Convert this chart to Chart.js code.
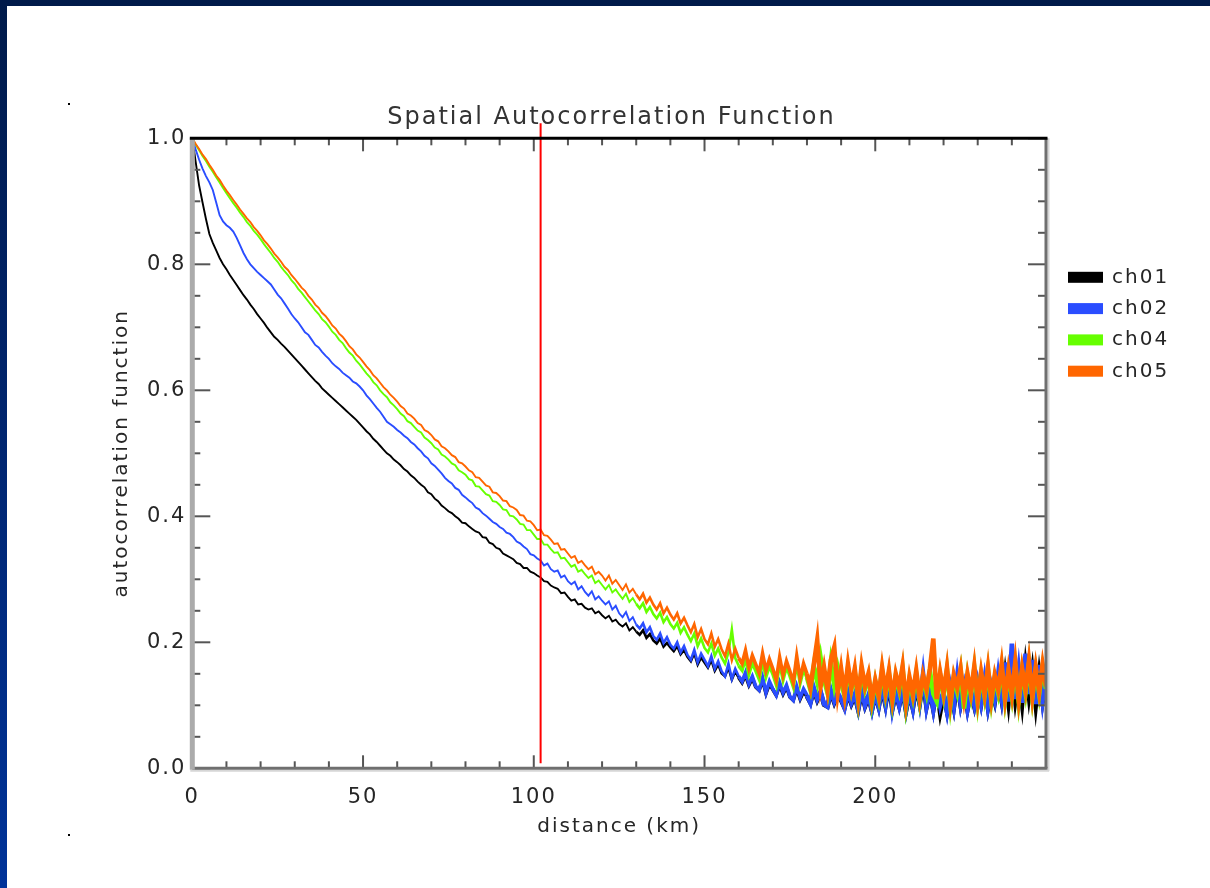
<!DOCTYPE html>
<html><head><meta charset="utf-8">
<script src="https://cdn.jsdelivr.net/npm/chart.js@4.4.1/dist/chart.umd.min.js"></script>
<style>
html,body{margin:0;padding:0;width:1210px;height:888px;overflow:hidden;}
body{position:relative;background:linear-gradient(180deg,#001a4a 0%,#00246c 45%,#003399 100%);}
#panel{position:absolute;left:7px;top:6px;right:0;bottom:0;background:#fff;}
#wrap{position:absolute;left:0;top:0;width:1210px;height:888px;}
.dot{position:absolute;width:2px;height:2px;background:#000;}
</style></head><body>
<div id="panel"></div>
<div class="dot" style="left:68px;top:103px"></div>
<div class="dot" style="left:68px;top:834px"></div>
<div id="wrap"><canvas id="c" width="1210" height="888"></canvas></div>
<script>
const distanceKm = [0,1,2,3,4,5,6,7,8,9,10,
11,12,13,14,15,16,17,18,19,20,21,22,23,24,25,26,27,28,29,30,
31,32,33,34,35,36,37,38,39,40,41,42,43,44,45,46,47,48,49,50,
51,52,53,54,55,56,57,58,59,60,61,62,63,64,65,66,67,68,69,70,
71,72,73,74,75,76,77,78,79,80,81,82,83,84,85,86,87,88,89,90,
91,92,93,94,95,96,97,98,99,100,101,102,103,104,105,106,107,108,109,110,
111,112,113,114,115,116,117,118,119,120,121,122,123,124,125,126,127,128,129,130,
131,132,133,134,135,136,137,138,139,140,141,142,143,144,145,146,147,148,149,150,
151,152,153,154,155,156,157,158,159,160,161,162,163,164,165,166,167,168,169,170,
171,172,173,174,175,176,177,178,179,180,181,182,183,184,185,186,187,188,189,190,
191,192,193,194,195,196,197,198,199,200,201,202,203,204,205,206,207,208,209,210,
211,212,213,214,215,216,217,218,219,220,221,222,223,224,225,226,227,228,229,230,
231,232,233,234,235,236,237,238,239,240,241,242,243,244,245,246,247,248,249,250];

const ch01 = [1.000,0.962,0.925,0.898,0.872,0.848,0.834,0.822,0.810,0.800,0.792,
0.783,0.775,0.767,0.759,0.751,0.744,0.736,0.729,0.721,0.714,
0.707,0.699,0.692,0.685,0.680,0.674,0.669,0.663,0.657,0.651,
0.645,0.639,0.633,0.627,0.621,0.615,0.610,0.603,0.598,0.593,
0.588,0.583,0.578,0.573,0.568,0.563,0.558,0.553,0.547,0.541,
0.535,0.530,0.523,0.518,0.512,0.506,0.500,0.496,0.490,0.486,
0.481,0.475,0.471,0.465,0.461,0.455,0.450,0.446,0.438,0.435,
0.428,0.424,0.417,0.413,0.408,0.405,0.400,0.396,0.390,0.389,
0.384,0.380,0.376,0.374,0.367,0.366,0.358,0.356,0.350,0.348,
0.341,0.338,0.335,0.332,0.326,0.324,0.318,0.318,0.312,0.310,
0.306,0.303,0.297,0.296,0.290,0.287,0.285,0.278,0.279,0.272,
0.266,0.268,0.260,0.261,0.255,0.252,0.254,0.246,0.249,0.243,
0.238,0.242,0.233,0.236,0.229,0.225,0.230,0.219,0.224,0.217,
0.212,0.219,0.207,0.213,0.203,0.198,0.206,0.193,0.199,0.192,
0.186,0.194,0.181,0.188,0.177,0.170,0.183,0.165,0.176,0.168,
0.160,0.172,0.155,0.165,0.151,0.146,0.160,0.141,0.154,0.144,
0.136,0.148,0.132,0.143,0.129,0.124,0.140,0.119,0.134,0.125,
0.116,0.132,0.118,0.129,0.113,0.108,0.126,0.110,0.122,0.114,
0.104,0.124,0.108,0.120,0.101,0.098,0.120,0.104,0.117,0.108,
0.096,0.118,0.102,0.115,0.093,0.120,0.098,0.112,0.092,0.116,
0.097,0.126,0.100,0.132,0.094,0.118,0.099,0.124,0.091,0.118,
0.095,0.130,0.102,0.138,0.097,0.122,0.093,0.126,0.088,0.116,
0.090,0.124,0.096,0.134,0.100,0.125,0.093,0.120,0.098,0.128,
0.102,0.134,0.096,0.126,0.105,0.140,0.108,0.150,0.104,0.160,
0.108,0.146,0.102,0.162,0.114,0.155,0.100,0.150,0.106,0.140];

const ch02 = [1.000,0.982,0.966,0.952,0.940,0.930,0.918,0.898,0.878,0.868,0.862,
0.858,0.852,0.842,0.830,0.818,0.808,0.800,0.794,0.788,0.783,
0.778,0.773,0.768,0.760,0.752,0.746,0.738,0.730,0.721,0.714,
0.708,0.700,0.692,0.688,0.680,0.672,0.668,0.661,0.655,0.650,
0.643,0.638,0.634,0.628,0.624,0.620,0.614,0.611,0.606,0.600,
0.592,0.586,0.579,0.572,0.566,0.558,0.550,0.546,0.542,0.537,
0.533,0.528,0.524,0.518,0.514,0.508,0.503,0.496,0.492,0.484,
0.480,0.474,0.468,0.461,0.456,0.452,0.445,0.442,0.434,0.430,
0.425,0.421,0.414,0.411,0.405,0.401,0.396,0.391,0.388,0.383,
0.380,0.374,0.372,0.367,0.360,0.357,0.352,0.348,0.340,0.338,
0.333,0.330,0.322,0.325,0.316,0.312,0.314,0.303,0.306,0.297,
0.292,0.296,0.284,0.289,0.280,0.274,0.281,0.268,0.273,0.266,
0.260,0.265,0.252,0.258,0.246,0.240,0.248,0.234,0.240,0.228,
0.222,0.230,0.216,0.224,0.210,0.204,0.214,0.199,0.208,0.196,
0.190,0.200,0.184,0.194,0.180,0.172,0.188,0.168,0.182,0.172,
0.162,0.178,0.158,0.170,0.154,0.146,0.166,0.142,0.158,0.146,
0.138,0.152,0.134,0.146,0.130,0.124,0.144,0.120,0.138,0.126,
0.116,0.136,0.120,0.132,0.114,0.108,0.130,0.112,0.126,0.116,
0.104,0.128,0.110,0.122,0.102,0.098,0.124,0.106,0.120,0.110,
0.096,0.122,0.104,0.118,0.094,0.126,0.100,0.116,0.092,0.120,
0.098,0.132,0.102,0.145,0.094,0.124,0.100,0.128,0.092,0.122,
0.096,0.138,0.104,0.150,0.098,0.126,0.094,0.132,0.100,0.120,
0.090,0.128,0.098,0.146,0.102,0.130,0.094,0.124,0.100,0.135,
0.104,0.142,0.098,0.130,0.108,0.150,0.112,0.168,0.106,0.198,
0.110,0.158,0.104,0.182,0.118,0.172,0.102,0.164,0.108,0.150];

const ch04 = [1.000,0.990,0.981,0.972,0.964,0.955,0.947,0.938,0.930,0.921,0.913,
0.905,0.897,0.890,0.882,0.875,0.867,0.861,0.853,0.847,0.840,
0.832,0.825,0.818,0.810,0.804,0.796,0.789,0.783,0.775,0.769,
0.761,0.755,0.748,0.741,0.734,0.727,0.721,0.713,0.708,0.701,
0.693,0.688,0.680,0.675,0.667,0.660,0.655,0.647,0.641,0.634,
0.627,0.621,0.613,0.608,0.600,0.594,0.589,0.581,0.576,0.570,
0.563,0.559,0.551,0.548,0.542,0.536,0.533,0.525,0.521,0.516,
0.509,0.506,0.498,0.495,0.490,0.484,0.481,0.473,0.470,0.466,
0.459,0.457,0.448,0.447,0.441,0.435,0.433,0.424,0.423,0.418,
0.411,0.410,0.401,0.400,0.395,0.388,0.387,0.378,0.378,0.371,
0.364,0.364,0.355,0.355,0.348,0.342,0.343,0.333,0.334,0.327,
0.320,0.323,0.312,0.315,0.308,0.302,0.306,0.294,0.298,0.291,
0.284,0.291,0.279,0.284,0.276,0.269,0.277,0.264,0.270,0.261,
0.254,0.262,0.248,0.256,0.245,0.238,0.247,0.232,0.240,0.229,
0.222,0.231,0.215,0.224,0.212,0.202,0.214,0.194,0.206,0.191,
0.184,0.198,0.179,0.190,0.176,0.166,0.184,0.220,0.175,0.163,
0.156,0.175,0.150,0.168,0.155,0.142,0.172,0.146,0.163,0.150,
0.133,0.168,0.141,0.162,0.147,0.130,0.170,0.136,0.158,0.144,
0.125,0.162,0.138,0.175,0.140,0.120,0.168,0.132,0.160,0.136,
0.115,0.158,0.125,0.152,0.108,0.156,0.126,0.146,0.104,0.138,
0.112,0.155,0.118,0.150,0.106,0.146,0.124,0.158,0.100,0.140,
0.114,0.150,0.108,0.144,0.120,0.155,0.118,0.106,0.148,0.116,
0.156,0.100,0.144,0.122,0.154,0.095,0.146,0.116,0.158,0.104,
0.148,0.114,0.156,0.106,0.144,0.120,0.160,0.108,0.150,0.114,
0.162,0.106,0.154,0.120,0.165,0.112,0.156,0.118,0.160,0.126];

const ch05 = [1.000,0.991,0.983,0.974,0.967,0.958,0.950,0.941,0.934,0.925,0.917,
0.910,0.902,0.895,0.887,0.880,0.873,0.867,0.859,0.853,0.846,
0.838,0.832,0.825,0.817,0.811,0.804,0.796,0.791,0.783,0.777,
0.770,0.763,0.758,0.750,0.744,0.736,0.731,0.723,0.718,0.711,
0.703,0.698,0.690,0.685,0.678,0.670,0.665,0.657,0.652,0.645,
0.638,0.632,0.624,0.619,0.612,0.605,0.600,0.593,0.588,0.582,
0.575,0.571,0.563,0.560,0.555,0.548,0.545,0.537,0.534,0.529,
0.522,0.519,0.511,0.508,0.503,0.497,0.494,0.486,0.484,0.479,
0.473,0.470,0.462,0.461,0.455,0.449,0.447,0.438,0.437,0.432,
0.425,0.424,0.416,0.414,0.410,0.402,0.401,0.393,0.392,0.386,
0.378,0.379,0.370,0.369,0.363,0.356,0.357,0.347,0.348,0.341,
0.334,0.337,0.326,0.329,0.322,0.316,0.320,0.308,0.312,0.306,
0.298,0.306,0.293,0.299,0.291,0.283,0.292,0.279,0.285,0.276,
0.268,0.277,0.263,0.271,0.260,0.252,0.262,0.246,0.255,0.244,
0.236,0.246,0.230,0.239,0.227,0.216,0.229,0.208,0.221,0.205,
0.197,0.214,0.193,0.205,0.189,0.178,0.198,0.172,0.190,0.175,
0.166,0.187,0.160,0.179,0.165,0.151,0.182,0.155,0.173,0.158,
0.140,0.176,0.148,0.170,0.154,0.136,0.178,0.142,0.166,0.150,
0.128,0.165,0.203,0.130,0.160,0.125,0.172,0.192,0.120,0.158,
0.118,0.165,0.128,0.158,0.112,0.162,0.130,0.150,0.108,0.140,
0.115,0.160,0.122,0.155,0.110,0.150,0.128,0.162,0.105,0.145,
0.118,0.155,0.112,0.148,0.125,0.158,0.206,0.110,0.152,0.120,
0.160,0.105,0.148,0.128,0.158,0.112,0.150,0.120,0.162,0.108,
0.152,0.118,0.160,0.110,0.148,0.125,0.165,0.112,0.155,0.118,
0.168,0.110,0.158,0.125,0.170,0.115,0.160,0.122,0.165,0.130];

const seriesNames = ['ch01', 'ch02', 'ch04', 'ch05'];
const seriesColors = ['#000000', '#2a4dff', '#66ff00', '#ff6600'];
const xTickValues = [0, 50, 100, 150, 200];
const yTickValues = [0, 0.2, 0.4, 0.6, 0.8, 1.0];
const xRange = [0, 250];
const yRange = [0, 1];
const markerKm = [102, 102];
const markerSpan = [0.008, 1.024];
const titleText = 'Spatial Autocorrelation Function';
const xTitleText = 'distance (km)';
const yTitleText = 'autocorrelation function';

const seriesData = [ch01, ch02, ch04, ch05];

Chart.defaults.font.family = "'DejaVu Sans', 'Liberation Sans', sans-serif";
Chart.defaults.color = '#262626';

const spacingPlugin = {
  id: 'spacing',
  beforeUpdate(c) { c.ctx.letterSpacing = '2px'; },
  beforeDraw(c) { c.ctx.letterSpacing = '2px'; }
};

const frameTicks = {
  id: 'frameTicks',
  afterDatasetsDraw(chart) {
    const {ctx, chartArea: a, scales: {x, y}} = chart;
    ctx.save();
    ctx.lineCap = 'butt';
    ctx.strokeStyle = '#555';
    ctx.lineWidth = 2;
    const seg = (x1, y1, x2, y2) => { ctx.beginPath(); ctx.moveTo(x1, y1); ctx.lineTo(x2, y2); ctx.stroke(); };
    for (let k = xRange[0]; k <= xRange[1]; k += 10) {
      const px = x.getPixelForValue(k);
      const len = (k % 50 === 0) ? 13 : 7;
      seg(px, a.bottom, px, a.bottom - len);
      seg(px, a.top, px, a.top + len);
    }
    for (let i = 0; i <= 20; i++) {
      const py = y.getPixelForValue(i * 0.05);
      const len = (i % 4 === 0) ? 18 : 8;
      seg(a.left, py, a.left + len, py);
      seg(a.right, py, a.right - len, py);
    }
    ctx.strokeStyle = '#d6d6d6'; ctx.lineWidth = 2;
    seg(a.left - 2, a.bottom + 2.5, a.right + 3, a.bottom + 2.5);
    seg(a.right + 2.5, a.top, a.right + 2.5, a.bottom + 3);
    ctx.strokeStyle = '#6f6f6f'; ctx.lineWidth = 3;
    seg(a.left, a.bottom, a.right + 1.5, a.bottom);
    seg(a.right, a.top, a.right, a.bottom);
    ctx.strokeStyle = '#ababab'; ctx.lineWidth = 5;
    seg(a.left, a.top, a.left, a.bottom + 1.5);
    ctx.strokeStyle = '#000'; ctx.lineWidth = 3;
    seg(a.left - 2.5, a.top, a.right + 1.5, a.top);
    ctx.restore();
  }
};

const legendPlugin = {
  id: 'sideLegend',
  afterDraw(chart) {
    const {ctx, chartArea: a} = chart;
    ctx.save();
    ctx.font = "20px 'DejaVu Sans', sans-serif";
    ctx.textAlign = 'left';
    ctx.textBaseline = 'alphabetic';
    seriesNames.forEach((name, i) => {
      const cy = a.top + 139 + i * 31.3;
      ctx.fillStyle = seriesColors[i];
      ctx.fillRect(a.right + 22, cy - 5.5, 35, 11);
      ctx.fillStyle = '#262626';
      ctx.fillText(name, a.right + 66, cy + 5.5);
    });
    ctx.restore();
  }
};

const datasets = [{
  label: 'marker',
  data: markerKm.map((k, i) => ({x: k, y: markerSpan[i]})),
  borderColor: '#ff0000',
  borderWidth: 2,
  pointRadius: 0,
  clip: false,
  order: 0
}].concat(seriesNames.map((name, i) => ({
  label: name,
  data: seriesData[i],
  borderColor: seriesColors[i],
  borderWidth: 1.9,
  pointRadius: 0,
  tension: 0,
  order: 4 - i,
  segment: {
    borderWidth: c => {
      const k = c.p0.parsed.x;
      if (k >= 180) return 4.6;
      if (k >= 160) return 3.6;
      if (k >= 130) return 2.6;
      return 1.9;
    }
  }
})));

new Chart(document.getElementById('c'), {
  type: 'line',
  data: { labels: distanceKm, datasets },
  options: {
    responsive: false,
    animation: false,
    devicePixelRatio: 1,
    layout: { padding: { left: 13, right: 0, top: 0, bottom: 0 } },
    plugins: {
      legend: { display: false },
      tooltip: { enabled: false },
      title: {
        display: true, text: titleText, color: '#333',
        font: { size: 24, weight: 'normal' },
        padding: { top: 103.3, bottom: 6.2 }
      }
    },
    scales: {
      x: {
        type: 'linear', min: xRange[0], max: xRange[1],
        afterBuildTicks(s) { s.ticks = xTickValues.map(v => ({value: v})); },
        ticks: { font: { size: 21 }, padding: 17, maxRotation: 0, autoSkip: false, callback: v => String(v) },
        grid: { display: false, drawTicks: false },
        border: { display: false },
        title: { display: true, text: xTitleText, font: { size: 20 }, padding: { top: 0, bottom: 49 } },
        afterFit(s) { s.height = 119.7; }
      },
      y: {
        type: 'linear', min: yRange[0], max: yRange[1],
        afterBuildTicks(s) { s.ticks = yTickValues.map(v => ({value: v})); },
        ticks: { font: { size: 21 }, padding: 6, callback: v => Number(v).toFixed(1) },
        grid: { display: false, drawTicks: false },
        border: { display: false },
        title: { display: true, text: yTitleText, font: { size: 20 }, padding: { top: 97, bottom: 0 } },
        afterFit(s) { s.width = 179.3; }
      },
      y2: {
        type: 'linear', position: 'right', display: true, min: 0, max: 1,
        ticks: { display: false },
        grid: { display: false, drawTicks: false },
        border: { display: false },
        afterFit(s) { s.width = 164; }
      }
    }
  },
  plugins: [spacingPlugin, frameTicks, legendPlugin]
});
</script></body></html>
